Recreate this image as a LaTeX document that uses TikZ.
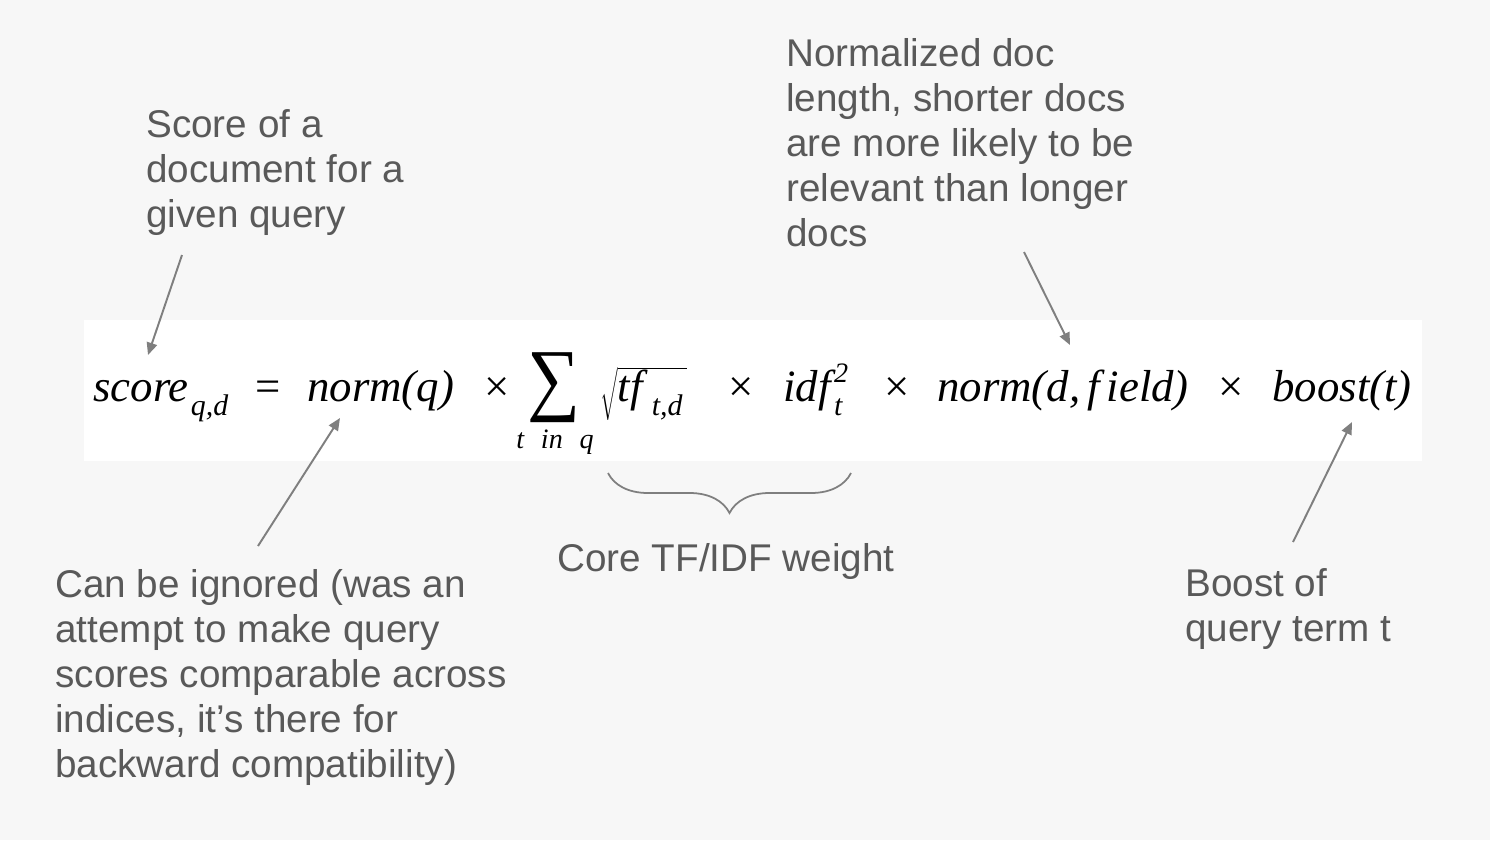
\documentclass[tikz,border=0pt]{standalone}
\usepackage{fontspec}
\setmainfont{Liberation Sans}
\newfontfamily\formfont{Liberation Serif}
\usetikzlibrary{arrows.meta, positioning, decorations.pathreplacing}
\definecolor{txtgray}{HTML}{595959}
\definecolor{arrgray}{HTML}{7F7F7F}
\definecolor{bggray}{HTML}{F7F7F7}
\newcommand{\fm}[1]{{\formfont\itshape #1}}
\newcommand{\lo}[1]{\raisebox{-0.33em}{\fontsize{17}{17}\selectfont\formfont\itshape #1}}
\newcommand{\hi}[1]{\raisebox{0.42em}{\fontsize{16}{16}\selectfont\formfont #1}}
\tikzstyle{note} = [inner sep=0pt, anchor=base west, align=left, text=txtgray, font=\fontsize{22}{25.5}\selectfont]
\tikzstyle{term} = [inner sep=0pt, anchor=base west, font=\fontsize{25.5}{30}\selectfont\formfont\itshape]
\tikzstyle{pointer} = [arrgray, line width=1.1pt, -{Triangle[length=7pt,width=6pt]}]

\begin{document}
\begin{tikzpicture}[x=0.02cm, y=-0.02cm]
    % Background and formula strip
    \fill[bggray] (0,0) rectangle (1490,840);
    \useasboundingbox (0,0) rectangle (1490,840);
    \fill[white] (84,320) rectangle (1422,461);

    % Formula
    \node[term] (score) at (93,401) {score\kern0.05em\lo{q,d}};
    \node[term] (eq) at (255,401) {\upshape =};
    \node[term] (normq) at (307,401) {norm(q)};
    \node[term] (x1) at (484,401) {\upshape ×};
    \node[inner sep=0pt] (sum) at (554,388) {\resizebox*{10.6mm}{14mm}{\formfont\upshape ∑}};
    \node[term, anchor=base, font=\fontsize{16}{16}\selectfont\formfont\itshape] (range) at (555,448) {t\hspace{0.6em}in\hspace{0.6em}q};
    \node[term] (root) at (600,401) {$\sqrt{\hbox{\rule[-0.42em]{0pt}{1.12em}\fm{tf}\hspace{0.2em}\lo{t,d}\hspace{0.1em}}}$};
    \node[term] (x2) at (728,401) {\upshape ×};
    \node[term] (idf) at (783,401) {idf\kern0.08em\rlap{\hi{2}}\lo{t}};
    \node[term] (x3) at (884,401) {\upshape ×};
    \node[term] (normd) at (937,401) {norm(d,\hspace{0.15em}f\hspace{0.16em}ield)};
    \node[term] (x4) at (1218,401) {\upshape ×};
    \node[term] (boost) at (1272,401) {boost(t)};

    % Labels
    \node[note] (scorelbl) at (146,227) {Score of a\\document for a\\given query};
    \node[note] (normdlbl) at (786,246) {Normalized doc\\length, shorter docs\\are more likely to be\\relevant than longer\\docs};
    \node[note] (corelbl) at (557,571) {Core TF/IDF weight};
    \node[note] (normqlbl) at (55,777) {Can be ignored (was an\\attempt to make query\\scores comparable across\\indices, it’s there for\\backward compatibility)};
    \node[note] (boostlbl) at (1185,641) {Boost of\\query term t};

    % Brace under the core weight
    \coordinate (bl) at (608,473);
    \coordinate (br) at (851,473);
    \draw[arrgray, line width=1pt, decorate, decoration={brace, amplitude=0.8cm}] (br) -- (bl);

    % Arrows
    \draw[pointer] ([shift={(36,28)}]scorelbl.base west) -- ([shift={(55,-46)}]score.base west);
    \draw[pointer] ([shift={(203,-231)}]normqlbl.base west) -- ([shift={(33,17)}]normq.base west);
    \draw[pointer] ([shift={(238,6)}]normdlbl.base west) -- ([shift={(133,-56)}]normd.base west);
    \draw[pointer] ([shift={(108,-99)}]boostlbl.base west) -- ([shift={(80,21)}]boost.base west);
\end{tikzpicture}
\end{document}
